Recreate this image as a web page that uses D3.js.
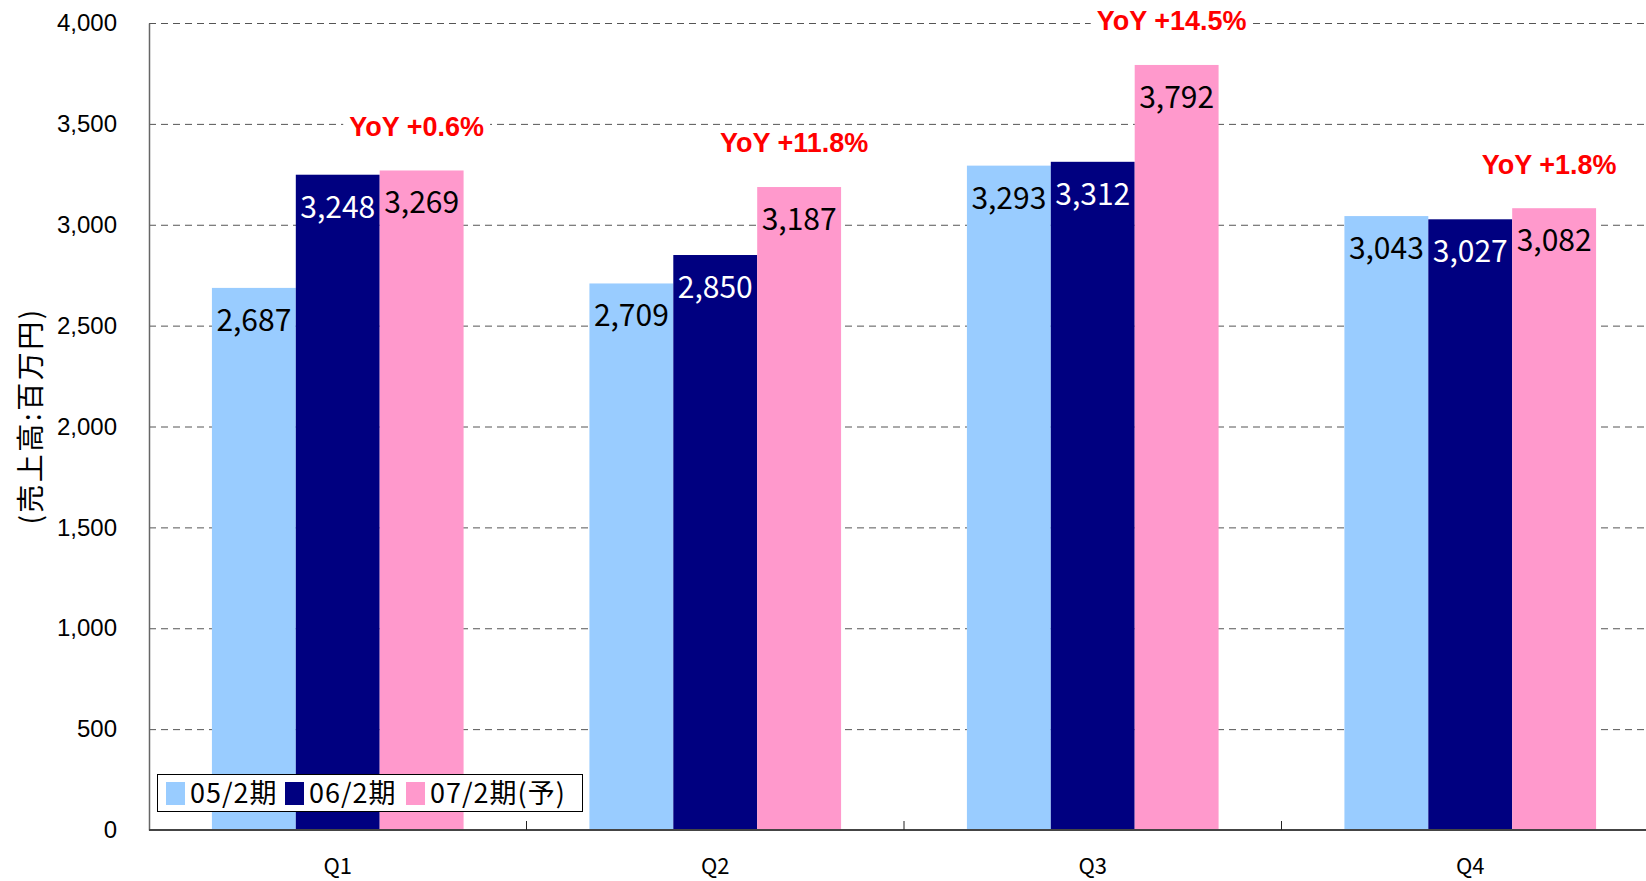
<!DOCTYPE html>
<html>
<head>
<meta charset="utf-8">
<script src="https://cdnjs.cloudflare.com/ajax/libs/d3/7.8.5/d3.min.js"></script>
<style>
  body { margin: 0; background: #fff; }
  svg { display: block; }
</style>
</head>
<body>
<div id="chart"></div>
<script>
// quarters and series
var quarters = ['Q1', 'Q2', 'Q3', 'Q4'];
var seriesNames = ['05/2期', '06/2期', '07/2期(予)'];
var fy05 = [2687, 2709, 3293, 3043];
var fy06 = [3248, 2850, 3312, 3027];
var fy07 = [3269, 3187, 3792, 3082];
var yoyLabels = ['YoY +0.6%', 'YoY +11.8%', 'YoY +14.5%', 'YoY +1.8%'];
var yTicks = [0, 500, 1000, 1500, 2000, 2500, 3000, 3500, 4000];

var colors = ['#99ccff', '#000080', '#ff99cc'],
    labelColors = ['#000', '#fff', '#000'];

var W = 1646, H = 881;
var margin = { left: 149, top: 23, right: -13, bottom: 51 };
var width  = W - margin.left - margin.right,
    height = H - margin.top - margin.bottom;

var series = [fy05, fy06, fy07];

var svg = d3.select('#chart')
  .append('svg')
  .attr('width', W)
  .attr('height', H);

var g = svg.append('g')
  .attr('transform', 'translate(' + margin.left + ',' + margin.top + ')');

var x = d3.scaleBand()
  .domain(quarters)
  .range([0, width]);

// excel gap width 150% -> bar = band / 4.5
var x1 = d3.scaleBand()
  .domain([0, 1, 2])
  .range([x.bandwidth() * 0.75 / 4.5, x.bandwidth() * (0.75 + 3) / 4.5]);

var y = d3.scaleLinear()
  .domain([0, 4000])
  .range([height, 0]);

// dashed gridlines
g.append('g')
  .selectAll('line')
  .data(yTicks.filter(function(d) { return d > 0; }))
  .join('line')
    .attr('x1', 0)
    .attr('x2', width)
    .attr('y1', function(d) { return y(d) + 0.5; })
    .attr('y2', function(d) { return y(d) + 0.5; })
    .attr('stroke', '#555')
    .attr('stroke-width', 1)
    .attr('stroke-dasharray', '7,5');

// bars
var groups = g.selectAll('.grp')
  .data(quarters)
  .join('g')
    .attr('class', 'grp')
    .attr('transform', function(d) { return 'translate(' + x(d) + ',0)'; });

groups.selectAll('rect.bar')
  .data(function(d, i) { return series.map(function(s, k) { return { k: k, v: s[i] }; }); })
  .join('rect')
    .attr('class', 'bar')
    .attr('x', function(d) { return x1(d.k); })
    .attr('y', function(d) { return y(d.v); })
    .attr('width', x1.bandwidth())
    .attr('height', function(d) { return height - y(d.v); })
    .attr('fill', function(d) { return colors[d.k]; });

groups.selectAll('text.val')
  .data(function(d, i) { return series.map(function(s, k) { return { k: k, v: s[i] }; }); })
  .join('text')
    .attr('class', 'val')
    .attr('x', function(d) { return x1(d.k) + x1.bandwidth() / 2; })
    .attr('y', function(d) { return y(d.v) + 43; })
    .attr('text-anchor', 'middle')
    .attr('font-family', '"Noto Sans CJK JP", sans-serif')
    .attr('font-size', 30)
    .attr('fill', function(d) { return labelColors[d.k]; })
    .text(function(d) { return d3.format(',')(d.v); });

// YoY labels above the forecast bars, white box hides the gridline
var yoy = groups.append('g')
  .attr('class', 'yoy');
yoy.append('rect')
  .attr('fill', '#fff');
yoy.append('text')
  .attr('x', x1(2) + x1.bandwidth() / 2 - 5)
  .attr('y', function(d, i) { return y(fy07[i]) - 44; })
  .attr('dy', '0.35em')
  .attr('text-anchor', 'middle')
  .attr('font-family', '"Liberation Sans", Arial, sans-serif')
  .attr('font-weight', 'bold')
  .attr('font-size', 27)
  .attr('fill', '#ff0000')
  .text(function(d, i) { return yoyLabels[i]; });
yoy.each(function() {
  var node = d3.select(this),
      bb = node.select('text').node().getBBox();
  node.select('rect')
    .attr('x', bb.x - 6)
    .attr('y', bb.y)
    .attr('width', bb.width + 12)
    .attr('height', bb.height);
});

// y axis
var yAxis = g.append('g')
  .call(d3.axisLeft(y).tickValues(yTicks).tickSize(0).tickPadding(32).tickFormat(d3.format(',')));
yAxis.select('.domain').attr('stroke', '#666').attr('stroke-width', 1.5);
yAxis.selectAll('text')
  .attr('font-family', '"Liberation Sans", Arial, sans-serif')
  .attr('font-size', 24)
  .attr('fill', '#000');

// x axis, ticks pointing up between categories
var xAxis = g.append('g')
  .attr('transform', 'translate(0,' + height + ')');
xAxis.append('line')
  .attr('x1', 0).attr('x2', width)
  .attr('stroke', '#444').attr('stroke-width', 2);
xAxis.selectAll('line.tk')
  .data(quarters)
  .join('line')
    .attr('class', 'tk')
    .attr('x1', function(d) { return x(d) + x.bandwidth(); })
    .attr('x2', function(d) { return x(d) + x.bandwidth(); })
    .attr('y1', 0).attr('y2', -9)
    .attr('stroke', '#222').attr('stroke-width', 1);
xAxis.selectAll('text')
  .data(quarters)
  .join('text')
    .attr('x', function(d) { return x(d) + x.bandwidth() / 2; })
    .attr('y', 36)
    .attr('dy', '0.35em')
    .attr('text-anchor', 'middle')
    .attr('font-family', '"Noto Sans CJK JP", sans-serif')
    .attr('font-size', 22)
    .attr('fill', '#000')
    .text(function(d) { return d; });

// y axis title
svg.append('text')
  .attr('transform', 'translate(31,416) rotate(-90)')
  .attr('text-anchor', 'middle')
  .attr('dy', '0.35em')
  .attr('font-family', '"Noto Sans CJK JP", sans-serif')
  .attr('font-size', 28)
  .attr('letter-spacing', 2.5)
  .attr('fill', '#000')
  .text('(売上高:百万円)');

// legend
var legend = svg.append('g')
  .attr('transform', 'translate(157,774)');
legend.append('rect')
  .attr('x', 0.5).attr('y', 0.5)
  .attr('width', 425).attr('height', 37)
  .attr('fill', '#fff')
  .attr('stroke', '#000')
  .attr('stroke-width', 1);

var legX = [9, 128, 249];
var items = legend.selectAll('.item')
  .data(seriesNames)
  .join('g')
    .attr('class', 'item')
    .attr('transform', function(d, i) { return 'translate(' + legX[i] + ',0)'; });
items.append('rect')
  .attr('x', 0).attr('y', 8)
  .attr('width', 19).attr('height', 23)
  .attr('fill', function(d, i) { return colors[i]; });
items.append('text')
  .attr('x', 24).attr('y', 20)
  .attr('dy', '0.35em')
  .attr('font-family', '"Noto Sans CJK JP", sans-serif')
  .attr('font-size', 27)
  .attr('letter-spacing', 1)
  .attr('fill', '#000')
  .text(function(d) { return d; });
</script>
</body>
</html>
